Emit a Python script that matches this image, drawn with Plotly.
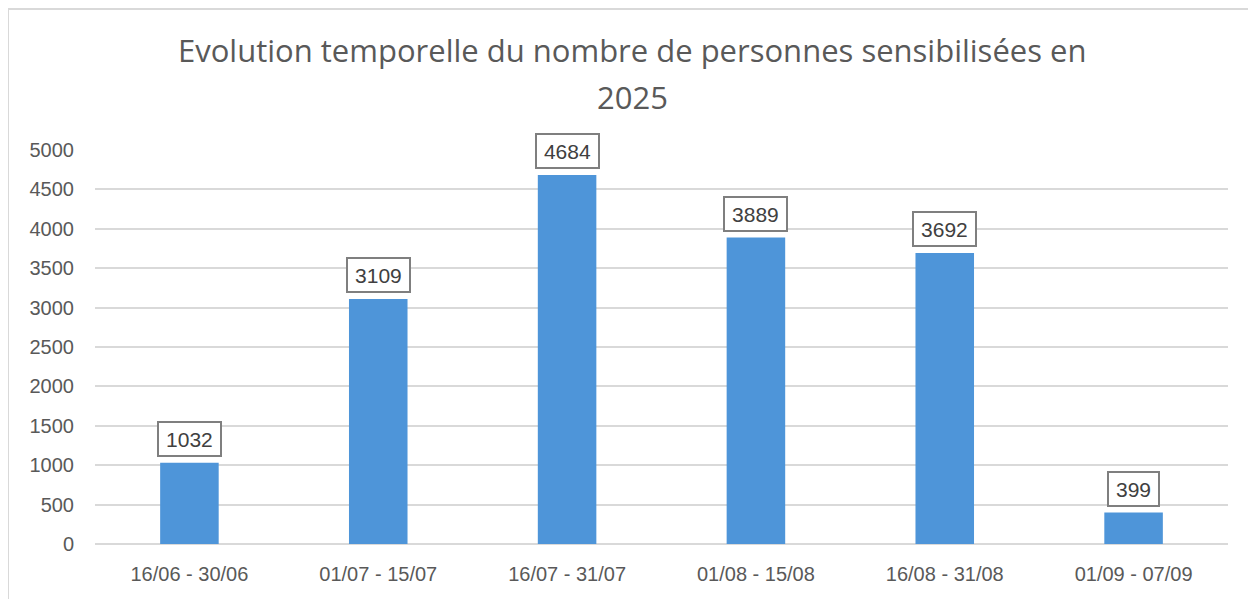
import plotly.graph_objects as go

categories = ["16/06 - 30/06", "01/07 - 15/07", "16/07 - 31/07", "01/08 - 15/08", "16/08 - 31/08", "01/09 - 07/09"]
values = [1032, 3109, 4684, 3889, 3692, 399]
y_ticks = [0, 500, 1000, 1500, 2000, 2500, 3000, 3500, 4000, 4500, 5000]
title_line1 = "Evolution temporelle du nombre de personnes sensibilisées en"
title_line2 = "2025"

FONT = "Open Sans"
TICKFONT = "Liberation Sans"
OFF = 8  # page body margin
W, H = 1256 - OFF, 599 - OFF
L, R, T, B = 95 - OFF, 1256 - 1228, 150 - OFF, 599 - 544
pw, ph = W - L - R, H - T - B

def px_x(p):
    return (p - OFF - L) / pw

def px_y(p):
    return (H - B - (p - OFF)) / ph

fig = go.Figure()
fig.add_trace(go.Bar(
    x=categories, y=values,
    marker=dict(color="#4E95D9", line=dict(width=0)),
    hoverinfo="x+y",
))

annotations = []
for c, v in zip(categories, values):
    annotations.append(dict(
        x=c, y=v, xref="x", yref="y", text=str(v), showarrow=False,
        yanchor="bottom", yshift=6,
        width=len(str(v)) * 11.7 + 8, height=26,
        font=dict(family=TICKFONT, size=21, color="#404040"),
        bordercolor="#7f7f7f", borderwidth=2, borderpad=3, bgcolor="white",
    ))
annotations.append(dict(
    x=px_x(632), y=px_y(50), xref="paper", yref="paper", text=title_line1,
    showarrow=False, xanchor="center", yanchor="middle",
    font=dict(family=FONT, size=31, color="#595959"),
))
annotations.append(dict(
    x=px_x(632), y=px_y(97), xref="paper", yref="paper", text=title_line2,
    showarrow=False, xanchor="center", yanchor="middle",
    font=dict(family=FONT, size=31, color="#595959"),
))

fig.update_layout(
    width=W, height=H,
    margin=dict(l=L, r=R, t=T, b=B),
    paper_bgcolor="white", plot_bgcolor="white",
    bargap=0.69,
    showlegend=False,
    annotations=annotations,
    shapes=[dict(
        type="rect", xref="paper", yref="paper",
        x0=px_x(8), x1=px_x(1254), y0=px_y(610), y1=px_y(9),
        line=dict(color="#d9d9d9", width=2), layer="below",
    )],
)
fig.update_yaxes(
    range=[0, 5000], tickvals=y_ticks,
    showgrid=True, gridcolor="#d9d9d9", gridwidth=1.5,
    zeroline=True, zerolinecolor="#d9d9d9", zerolinewidth=1.5,
    showline=False, ticks="", ticklabelstandoff=20,
    tickfont=dict(family=TICKFONT, size=20, color="#595959"),
)
fig.update_xaxes(
    showgrid=False, showline=False, ticks="", ticklabelstandoff=16,
    tickfont=dict(family=TICKFONT, size=20, color="#595959"),
)

fig.write_html("out.html")
